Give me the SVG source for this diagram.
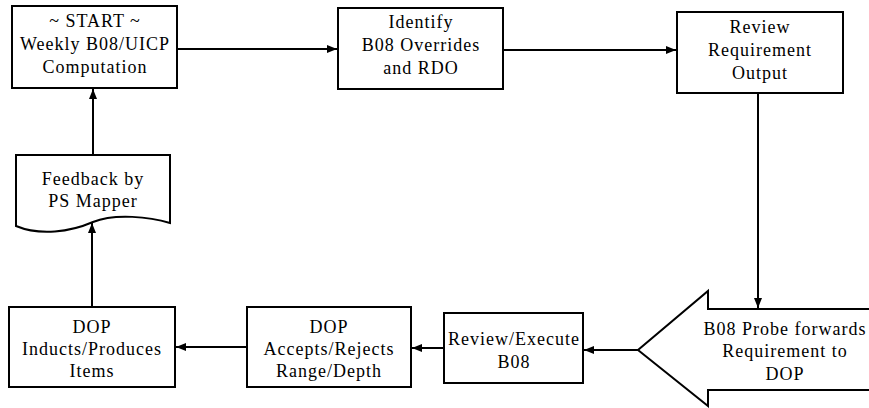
<svg xmlns="http://www.w3.org/2000/svg" width="869" height="408" viewBox="0 0 869 408">
<defs>
<style>
.box{fill:#fff;stroke:#000;stroke-width:2}
.t{font-family:"Liberation Serif","Times New Roman",serif;font-size:18px;letter-spacing:1px;text-anchor:middle;fill:#000}
.c{fill:none;stroke:#000;stroke-width:2}
</style>
<marker id="ah" viewBox="0 0 10 8" refX="10" refY="4" markerWidth="10" markerHeight="8" markerUnits="userSpaceOnUse" orient="auto">
<path d="M0,0 L10,4 L0,8 Z" fill="#000"/>
</marker>
</defs>
<rect width="869" height="408" fill="#fff"/>
<g id="connectors">
<line class="c" x1="177" y1="49" x2="337" y2="49" marker-end="url(#ah)"/>
<line class="c" x1="503" y1="50" x2="676" y2="50" marker-end="url(#ah)"/>
<line class="c" x1="758" y1="93" x2="758" y2="308" marker-end="url(#ah)"/>
<line class="c" x1="638" y1="350" x2="584" y2="350" marker-end="url(#ah)"/>
<line class="c" x1="444" y1="348" x2="412" y2="348" marker-end="url(#ah)"/>
<line class="c" x1="247" y1="347" x2="176" y2="347" marker-end="url(#ah)"/>
<line class="c" x1="92" y1="307" x2="92" y2="223" marker-end="url(#ah)"/>
<line class="c" x1="93" y1="155" x2="93" y2="89" marker-end="url(#ah)"/>
</g>
<g id="start">
<rect class="box" x="12" y="6" width="165" height="82"/>
<text class="t" x="95" y="27">~ START ~</text>
<text class="t" x="95" y="50">Weekly B08/UICP</text>
<text class="t" x="95" y="73">Computation</text>
</g>
<g id="identify">
<rect class="box" x="338" y="8" width="165" height="81"/>
<text class="t" x="421" y="28">Identify</text>
<text class="t" x="421" y="51">B08 Overrides</text>
<text class="t" x="421" y="74">and RDO</text>
</g>
<g id="review">
<rect class="box" x="677" y="12" width="166" height="81"/>
<text class="t" x="760" y="33">Review</text>
<text class="t" x="760" y="56">Requirement</text>
<text class="t" x="760" y="79">Output</text>
</g>
<g id="probe">
<path class="box" d="M869,309 H708 V291 L638,350 L708,406 V390 H869"/>
<text class="t" x="785" y="335">B08 Probe forwards</text>
<text class="t" x="785" y="357">Requirement to</text>
<text class="t" x="785" y="380">DOP</text>
</g>
<g id="review-execute">
<rect class="box" x="444" y="313" width="139" height="70"/>
<text class="t" x="514" y="345">Review/Execute</text>
<text class="t" x="514" y="368">B08</text>
</g>
<g id="accepts">
<rect class="box" x="247" y="307" width="164" height="80"/>
<text class="t" x="329" y="333">DOP</text>
<text class="t" x="329" y="355">Accepts/Rejects</text>
<text class="t" x="329" y="377">Range/Depth</text>
</g>
<g id="inducts">
<rect class="box" x="9" y="307" width="166" height="80"/>
<text class="t" x="92" y="333">DOP</text>
<text class="t" x="92" y="355">Inducts/Produces</text>
<text class="t" x="92" y="377">Items</text>
</g>
<g id="feedback">
<path class="box" d="M16,155 H170 V223 C150,217 115,213 93,222 C70,232 40,236 16,226 Z"/>
<text class="t" x="93" y="185">Feedback by</text>
<text class="t" x="93" y="207">PS Mapper</text>
</g>
</svg>
